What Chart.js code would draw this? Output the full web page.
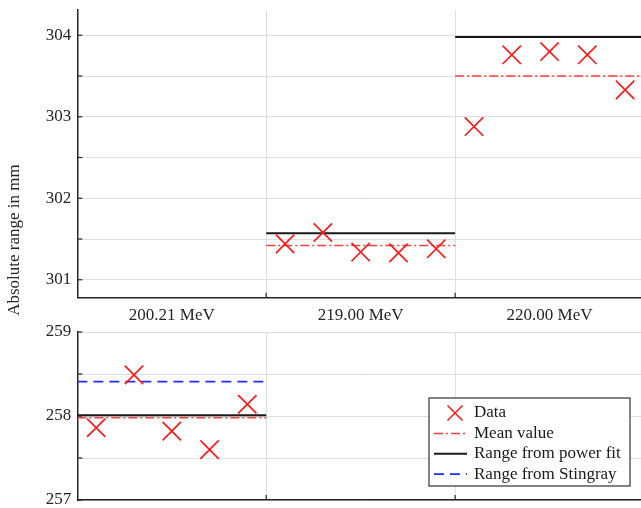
<!DOCTYPE html>
<html>
<head>
<meta charset="utf-8">
<script src="https://cdn.jsdelivr.net/npm/chart.js@4.4.1/dist/chart.umd.min.js"></script>
<style>
  body { margin: 0; background: #fff; }
  #wrap { position: relative; width: 641px; height: 508px; overflow: hidden; }
  canvas { position: absolute; left: 0; }
  #topChart { top: 0; }
  #bottomChart { top: 322px; }
</style>
</head>
<body>
<div id="wrap">
  <canvas id="topChart" width="650" height="330"></canvas>
  <canvas id="bottomChart" width="650" height="186"></canvas>
</div>
<script>
const categories = ["200.21 MeV", "219.00 MeV", "220.00 MeV"];
// five measurements per energy
const data200 = [257.86, 258.49, 257.82, 257.60, 258.14];
const data219 = [301.44, 301.58, 301.34, 301.33, 301.38];
const data220 = [302.88, 303.76, 303.80, 303.76, 303.33];
const meanValues = [257.98, 301.42, 303.50];
const powerFit = [258.01, 301.57, 303.98];
const stingray = [258.41, null, null];
const topRange = [300.78, 304.31];
const bottomRange = [257, 259];

const FONT = { family: "'Liberation Serif', 'DejaVu Serif', serif", size: 17 };
const AXIS = "#262626";
const GRID = "#dedede";

const toPoints = (values, cat) =>
  values.map((v, i) => ({ x: cat + (i + 0.5) / values.length, y: v }));

const segments = (values, cats) => {
  let pts = [];
  cats.forEach(c => {
    if (values[c] == null) return;
    if (pts.length) pts.push({ x: c, y: null });
    pts.push({ x: c, y: values[c] }, { x: c + 1, y: values[c] });
  });
  return pts;
};

const makeDatasets = (points, cats) => [
  {
    label: "Data",
    data: points,
    pointStyle: "crossRot",
    pointRadius: 13,
    pointBorderWidth: 1.7,
    borderColor: "#ff1a1a",
    showLine: false,
  },
  {
    label: "Mean value",
    data: segments(meanValues, cats),
    showLine: true,
    pointRadius: 0,
    borderColor: "#ff4040",
    borderWidth: 1.5,
    borderDash: [9, 3, 2, 3],
  },
  {
    label: "Range from power fit",
    data: segments(powerFit, cats),
    showLine: true,
    pointRadius: 0,
    borderColor: "#1a1a1a",
    borderWidth: 2,
  },
  {
    label: "Range from Stingray",
    data: segments(stingray, cats),
    showLine: true,
    pointRadius: 0,
    borderColor: "#1f2fff",
    borderWidth: 1.7,
    borderDash: [10, 6],
  },
];

// tick marks drawn inside the plot like the original figure
const innerTicks = {
  id: "innerTicks",
  afterDraw(chart) {
    const { ctx, chartArea } = chart;
    const y = chart.scales.y, x = chart.scales.x;
    ctx.save();
    ctx.strokeStyle = AXIS;
    ctx.lineWidth = 1.2;
    y.ticks.forEach(t => {
      const py = y.getPixelForValue(t.value);
      ctx.beginPath();
      ctx.moveTo(chartArea.left, py);
      ctx.lineTo(chartArea.left + 5, py);
      ctx.stroke();
    });
    [1, 2].forEach(v => {
      const px = x.getPixelForValue(v);
      ctx.beginPath();
      ctx.moveTo(px, chartArea.bottom);
      ctx.lineTo(px, chartArea.bottom - 5);
      ctx.stroke();
    });
    ctx.restore();
  },
};

const yTitle = {
  id: "yTitle",
  afterDraw(chart) {
    const ctx = chart.ctx;
    ctx.save();
    ctx.translate(15, 240);
    ctx.rotate(-Math.PI / 2);
    ctx.font = FONT.size + "px " + FONT.family;
    ctx.fillStyle = AXIS;
    ctx.textAlign = "center";
    ctx.textBaseline = "middle";
    ctx.fillText("Absolute range in mm", 0, 0);
    ctx.restore();
  },
};

const boxLegend = {
  id: "boxLegend",
  afterDraw(chart) {
    const { ctx, chartArea } = chart;
    const w = 201, h = 88;
    const left = chartArea.right - 14 - w;
    const top = chartArea.bottom - 14 - h;
    ctx.save();
    ctx.fillStyle = "#fff";
    ctx.fillRect(left, top, w, h);
    ctx.strokeStyle = "#333";
    ctx.lineWidth = 1.2;
    ctx.strokeRect(left, top, w, h);
    ctx.font = FONT.size + "px " + FONT.family;
    ctx.textBaseline = "middle";
    chart.data.datasets.forEach((ds, i) => {
      const cy = top + 15 + i * 20.4;
      ctx.strokeStyle = ds.borderColor;
      if (ds.showLine === false) {
        const r = 7.5;
        ctx.lineWidth = 1.5;
        ctx.setLineDash([]);
        ctx.beginPath();
        ctx.moveTo(left + 26 - r, cy - r);
        ctx.lineTo(left + 26 + r, cy + r);
        ctx.moveTo(left + 26 - r, cy + r);
        ctx.lineTo(left + 26 + r, cy - r);
        ctx.stroke();
      } else {
        ctx.lineWidth = ds.borderWidth;
        ctx.setLineDash(ds.borderDash || []);
        ctx.beginPath();
        ctx.moveTo(left + 5, cy);
        ctx.lineTo(left + 38, cy);
        ctx.stroke();
      }
      ctx.setLineDash([]);
      ctx.fillStyle = "#1a1a1a";
      ctx.fillText(ds.label, left + 45, cy);
    });
    ctx.restore();
  },
};

const noPad = s => {
  s.paddingTop = 0; s.paddingBottom = 0; s.paddingLeft = 0; s.paddingRight = 0;
};

const yScale = (range, width) => ({
  min: range[0],
  max: range[1],
  afterFit: s => { s.width = width; noPad(s); },
  afterBuildTicks: s => {
    let t = [];
    for (let v = Math.ceil(range[0] * 4) / 4; v <= range[1] + 1e-9; v += 0.25) t.push({ value: v });
    s.ticks = t;
  },
  ticks: {
    font: FONT,
    color: AXIS,
    padding: 6,
    callback: v => (Math.abs(v - Math.round(v)) < 1e-6 ? String(Math.round(v)) : ""),
  },
  grid: {
    drawTicks: false,
    color: c => (Math.abs(c.tick.value * 2 - Math.round(c.tick.value * 2)) < 1e-6 ? GRID : "rgba(0,0,0,0)"),
  },
  border: { color: AXIS, width: 1.5 },
});

const xScale = (height, showLabels) => ({
  type: "linear",
  min: 0,
  max: 3,
  afterFit: s => { s.height = height; noPad(s); },
  afterBuildTicks: s => {
    s.ticks = [0, 0.5, 1, 1.5, 2, 2.5, 3].map(v => ({ value: v }));
  },
  ticks: {
    display: showLabels,
    autoSkip: false,
    maxRotation: 0,
    font: FONT,
    color: AXIS,
    padding: 8,
    callback: v => (v % 1 === 0.5 ? categories[Math.floor(v)] : ""),
  },
  grid: {
    drawTicks: false,
    color: c => (c.tick.value === 1 || c.tick.value === 2 ? GRID : "rgba(0,0,0,0)"),
  },
  border: { color: AXIS, width: 1.5 },
});

const baseOptions = {
  responsive: false,
  animation: false,
  events: [],
};

new Chart(document.getElementById("topChart"), {
  type: "scatter",
  data: {
    datasets: makeDatasets([...toPoints(data219, 1), ...toPoints(data220, 2)], [1, 2]),
  },
  options: {
    ...baseOptions,
    layout: { autoPadding: false, padding: { top: 10, right: 6, left: 0, bottom: 0 } },
    plugins: { legend: { display: false }, tooltip: { enabled: false } },
    scales: { x: xScale(32.3, true), y: yScale(topRange, 77.3) },
  },
  plugins: [innerTicks, yTitle],
});

new Chart(document.getElementById("bottomChart"), {
  type: "scatter",
  data: {
    datasets: makeDatasets(toPoints(data200, 0), [0]),
  },
  options: {
    ...baseOptions,
    layout: { autoPadding: false, padding: { top: 10, right: 6, left: 0, bottom: 0 } },
    plugins: { legend: { display: false }, tooltip: { enabled: false } },
    scales: { x: xScale(8, false), y: yScale(bottomRange, 77.3) },
  },
  plugins: [innerTicks, boxLegend],
});
</script>
</body>
</html>
